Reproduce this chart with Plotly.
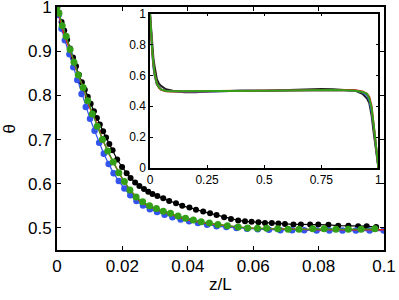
import plotly.graph_objects as go

# ---------------- main panel data (z/L, theta) ----------------
green_z = [0.0, 0.0006, 0.0016, 0.0028, 0.0040, 0.0052, 0.0065, 0.0080, 0.0094, 0.0108,
           0.0123, 0.0139, 0.0155, 0.0172, 0.0189, 0.0206, 0.0223, 0.0242, 0.0262, 0.0283,
           0.0304, 0.0325, 0.0347, 0.0370, 0.0393, 0.0417, 0.0441, 0.0466, 0.0492, 0.0521,
           0.0554, 0.0583, 0.0613, 0.0641, 0.0675, 0.0707, 0.0740, 0.0782, 0.0817, 0.0853,
           0.0891, 0.0930, 0.0972]
green_t = [1.0, 0.986, 0.958, 0.934, 0.904, 0.875, 0.846, 0.818, 0.788, 0.758,
           0.730, 0.700, 0.674, 0.649, 0.625, 0.605, 0.586, 0.570, 0.559, 0.550,
           0.544, 0.538, 0.533, 0.527, 0.522, 0.518, 0.514, 0.511, 0.508, 0.505,
           0.502, 0.500, 0.499, 0.499, 0.498, 0.497, 0.497, 0.498, 0.498, 0.497,
           0.497, 0.497, 0.498]

black_z = [0.0, 0.0006, 0.0014, 0.0022, 0.0031, 0.0040, 0.0049, 0.0058, 0.0067, 0.0076,
           0.0085, 0.0094, 0.0103, 0.0113, 0.0122, 0.0131, 0.0141, 0.0150, 0.0160, 0.0170,
           0.0184, 0.0199, 0.0213, 0.0225, 0.0239, 0.0252, 0.0266, 0.0279, 0.0292, 0.0307,
           0.0325, 0.0343, 0.0364, 0.0383, 0.0405, 0.0425, 0.0447, 0.0468, 0.0488, 0.0511,
           0.0532, 0.0554, 0.0575, 0.0595, 0.0616, 0.0636, 0.0657, 0.0677, 0.0697, 0.0723,
           0.0746, 0.0774, 0.0799, 0.0830, 0.0860, 0.0891, 0.0921, 0.0947, 0.0976]
black_t = [1.0, 0.988, 0.966, 0.947, 0.926, 0.906, 0.886, 0.866, 0.847, 0.830,
           0.813, 0.797, 0.781, 0.764, 0.749, 0.734, 0.719, 0.705, 0.690, 0.676,
           0.655, 0.638, 0.624, 0.613, 0.603, 0.595, 0.588, 0.582, 0.577, 0.572,
           0.567, 0.561, 0.556, 0.550, 0.546, 0.541, 0.537, 0.533, 0.529, 0.524,
           0.520, 0.517, 0.515, 0.514, 0.513, 0.511, 0.511, 0.510, 0.509, 0.508,
           0.508, 0.508, 0.508, 0.507, 0.505, 0.505, 0.504, 0.504, 0.502]

blue_z = [0.0, 0.0005, 0.0014, 0.0024, 0.0038, 0.0050, 0.0062, 0.0075, 0.0088, 0.0101,
          0.0115, 0.0129, 0.0143, 0.0158, 0.0173, 0.0189, 0.0206, 0.0224, 0.0243, 0.0263,
          0.0284, 0.0306, 0.0329, 0.0353, 0.0378, 0.0404, 0.0431, 0.0459, 0.0488, 0.0518,
          0.0549, 0.0581, 0.0614, 0.0648, 0.0683, 0.0719, 0.0756, 0.0794, 0.0833, 0.0873,
          0.0914, 0.0956, 0.0999]
blue_t = [1.0, 0.982, 0.951, 0.925, 0.893, 0.864, 0.835, 0.803, 0.774, 0.747,
          0.720, 0.693, 0.668, 0.645, 0.624, 0.606, 0.589, 0.574, 0.561, 0.551,
          0.542, 0.536, 0.530, 0.524, 0.519, 0.515, 0.511, 0.507, 0.504, 0.502,
          0.500, 0.498, 0.497, 0.496, 0.495, 0.495, 0.495, 0.494, 0.494, 0.494,
          0.494, 0.494, 0.494]

red_z = [0.0, 0.002, 0.004, 0.006, 0.008, 0.010, 0.012, 0.014, 0.016, 0.018,
         0.020, 0.022, 0.025, 0.028, 0.031, 0.035, 0.040, 0.045, 0.050, 0.055,
         0.060, 0.070, 0.080, 0.090, 0.100]
red_t = [1.0, 0.942, 0.902, 0.856, 0.818, 0.772, 0.740, 0.699, 0.666, 0.637,
         0.611, 0.589, 0.563, 0.549, 0.540, 0.530, 0.518, 0.511, 0.506, 0.502,
         0.499, 0.497, 0.496, 0.496, 0.496]

# ---------------- inset data (full domain) ----------------
in_z = [0.0, 0.005, 0.01, 0.015, 0.02, 0.03, 0.04, 0.05, 0.07, 0.1, 0.15, 0.2, 0.25,
        0.3, 0.4, 0.5, 0.6, 0.7, 0.75, 0.8, 0.85, 0.9, 0.93, 0.95, 0.96, 0.97, 0.98,
        0.99, 1.0]
in_black = [1.0, 0.88, 0.79, 0.71, 0.66, 0.575, 0.545, 0.53, 0.51, 0.50, 0.49, 0.49,
            0.495, 0.497, 0.50, 0.50, 0.505, 0.51, 0.512, 0.51, 0.507, 0.50, 0.48,
            0.45, 0.42, 0.34, 0.22, 0.09, 0.0]
in_blue = [1.0, 0.84, 0.74, 0.65, 0.60, 0.54, 0.52, 0.507, 0.498, 0.495, 0.493, 0.494,
           0.496, 0.498, 0.50, 0.50, 0.502, 0.505, 0.506, 0.505, 0.503, 0.50, 0.49,
           0.47, 0.44, 0.37, 0.26, 0.12, 0.0]
in_red = [1.0, 0.85, 0.75, 0.67, 0.61, 0.545, 0.518, 0.506, 0.497, 0.496, 0.495, 0.495,
          0.497, 0.498, 0.50, 0.50, 0.502, 0.505, 0.507, 0.506, 0.505, 0.503, 0.495,
          0.48, 0.46, 0.40, 0.28, 0.13, 0.0]
in_green = [1.0, 0.85, 0.76, 0.675, 0.61, 0.545, 0.52, 0.507, 0.499, 0.497, 0.497,
            0.497, 0.498, 0.499, 0.50, 0.50, 0.502, 0.505, 0.506, 0.505, 0.504, 0.50,
            0.492, 0.48, 0.45, 0.39, 0.27, 0.12, 0.0]

main_xticks = [0, 0.02, 0.04, 0.06, 0.08, 0.1]
main_xtext = ["0", "0.02", "0.04", "0.06", "0.08", "0.1"]
main_yticks = [0.5, 0.6, 0.7, 0.8, 0.9, 1.0]
main_ytext = ["0.5", "0.6", "0.7", "0.8", "0.9", "1"]
in_xticks = [0, 0.25, 0.5, 0.75, 1]
in_xtext = ["0", "0.25", "0.5", "0.75", "1"]
in_yticks = [0, 0.2, 0.4, 0.6, 0.8, 1]
in_ytext = ["0", "0.2", "0.4", "0.6", "0.8", "1"]

BLACK = "#000000"
BLUE = "#3355ee"
RED = "#e02020"
GREEN = "#33a017"

fig = go.Figure()

def main_series(x, y, color, msize):
    fig.add_trace(go.Scatter(x=x, y=y, mode="lines+markers",
                             line=dict(color=color, width=1.2),
                             marker=dict(color=color, size=msize, line=dict(width=0)),
                             xaxis="x", yaxis="y", showlegend=False))

main_series(black_z, black_t, BLACK, 6)
main_series(blue_z, blue_t, BLUE, 6.5)
fig.add_trace(go.Scatter(x=red_z, y=red_t, mode="lines", line=dict(color=RED, width=1.5),
                         xaxis="x", yaxis="y", showlegend=False))
main_series(green_z, green_t, GREEN, 7)

for yy, col in [(in_black, "#222222"), (in_blue, BLUE), (in_red, RED), (in_green, GREEN)]:
    fig.add_trace(go.Scatter(x=in_z, y=yy, mode="lines", line=dict(color=col, width=2),
                             xaxis="x2", yaxis="y2", showlegend=False))

font_main = dict(family="Liberation Sans, Arial, sans-serif", size=17, color="black")
font_in = dict(family="Liberation Sans, Arial, sans-serif", size=12, color="black")

common = dict(ticks="inside", tickwidth=1, tickcolor="black", showline=True,
              linecolor="black", mirror="ticks", showgrid=False, zeroline=False,
              automargin=False, ticklabeloverflow="allow")

fig.update_layout(
    width=399, height=300,
    margin=dict(l=57, r=15, t=7, b=50),
    paper_bgcolor="white", plot_bgcolor="white",
    xaxis=dict(domain=[0, 1], range=[0, 0.1], tickvals=main_xticks, ticktext=main_xtext,
               ticklen=4, linewidth=2, tickfont=font_main, **common),
    yaxis=dict(domain=[0, 1], range=[0.45, 1.0002], tickvals=main_yticks, ticktext=main_ytext,
               ticklen=4, linewidth=2, tickfont=font_main, **common),
    xaxis2=dict(domain=[0.2844, 0.983], anchor="y2", range=[0, 1], tickvals=in_xticks,
                ticktext=in_xtext, ticklen=3, linewidth=1.5, tickfont=font_in, **common),
    yaxis2=dict(domain=[0.3374, 0.973], anchor="x2", range=[0, 1], tickvals=in_yticks,
                ticktext=in_ytext, ticklen=3, linewidth=1.5, tickfont=font_in, **common),
    annotations=[
        dict(text="z/L", xref="paper", yref="paper", x=0.5, y=-0.144, showarrow=False,
             xanchor="center", yanchor="middle", font=font_main),
        dict(text="θ", xref="paper", yref="paper", x=-0.144, y=0.5, showarrow=False,
             textangle=-90, xanchor="center", yanchor="middle", font=font_main),
    ],
)

fig.write_html("out.html", config={"displayModeBar": False},
               post_script="document.body.style.margin='0';document.body.style.overflow='hidden';")
